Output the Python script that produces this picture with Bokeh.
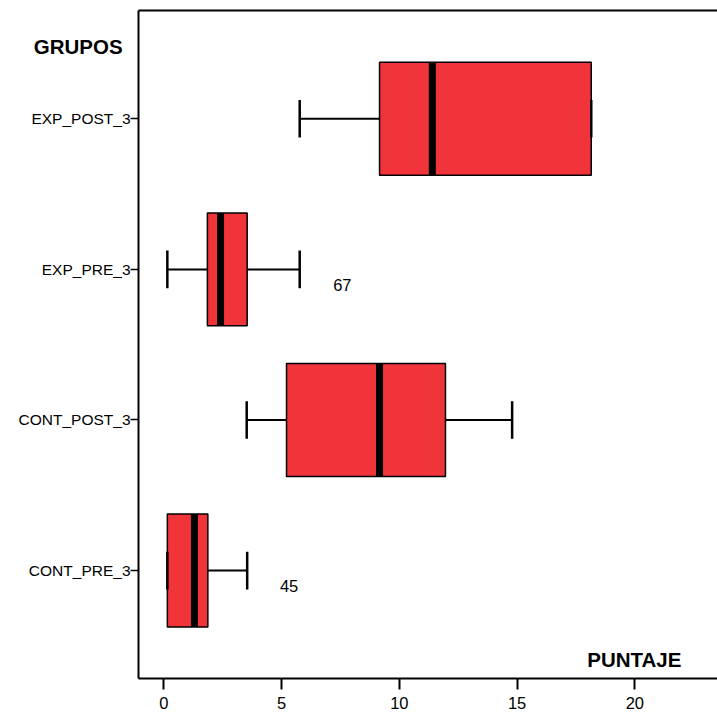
from bokeh.plotting import figure
from bokeh.models import Range1d, Label, FixedTicker, ColumnDataSource, LinearAxis
from bokeh.core.properties import value
from bokeh.embed import file_html
from bokeh.resources import INLINE

# Data (read in the axis scale of the picture)
groups = ["CONT_PRE_3", "CONT_POST_3", "EXP_PRE_3", "EXP_POST_3"]
positions = [1, 2, 3, 4]
whisker_low = [0.15, 3.52, 0.15, 5.77]
q1 = [0.15, 5.21, 1.85, 9.16]
median = [1.30, 9.16, 2.41, 11.40]
q3 = [1.87, 11.96, 3.54, 18.15]
whisker_high = [3.54, 14.79, 5.77, 18.15]

outlier_labels = ["45", "67"]
outlier_x = [5.32, 7.58]
outlier_y = [0.897, 2.896]

x_ticks = [0, 5, 10, 15, 20]

FONT = "Liberation Sans"
RED = "#F0343A"
BOX_H = 0.75
CAP_H = 0.25

# plotting box (frame lines) in data coordinates
X_LEFT, X_RIGHT = -1.074, 23.51
Y_BOTTOM, Y_TOP = 0.283, 4.719

p = figure(width=717, height=713, output_backend="svg", toolbar_location=None,
           x_range=Range1d(-6.934, 23.51), y_range=Range1d(0.0511, 4.7855),
           min_border_left=0, min_border_right=0, min_border_top=0,
           min_border_bottom=0)
p.xgrid.visible = False
p.ygrid.visible = False
p.outline_line_color = None
p.background_fill_color = "white"
p.border_fill_color = "white"

src = ColumnDataSource(dict(
    y=positions, lo=whisker_low, q1=q1, med=median, q3=q3, hi=whisker_high,
    ylo=[v - BOX_H / 2 for v in positions], yhi=[v + BOX_H / 2 for v in positions],
    clo=[v - CAP_H / 2 for v in positions], chi=[v + CAP_H / 2 for v in positions],
))

# whiskers
p.segment(x0="lo", y0="y", x1="q1", y1="y", source=src, line_color="black", line_width=2)
p.segment(x0="q3", y0="y", x1="hi", y1="y", source=src, line_color="black", line_width=2)
# boxes
p.hbar(y="y", left="q1", right="q3", height=BOX_H, source=src,
       fill_color=RED, line_color="black", line_width=1.5)
# medians
p.segment(x0="med", y0="ylo", x1="med", y1="yhi", source=src, line_color="black", line_width=7)
# caps
p.segment(x0="lo", y0="clo", x1="lo", y1="chi", source=src, line_color="black", line_width=2.5)
p.segment(x0="hi", y0="clo", x1="hi", y1="chi", source=src, line_color="black", line_width=2.5)

# outlier labels
osrc = ColumnDataSource(dict(x=outlier_x, y=outlier_y, t=outlier_labels))
p.text(x="x", y="y", text="t", source=osrc, text_font=value(FONT), text_font_size="16.5px",
       text_align="center", text_baseline="middle", text_color="black")

# x axis (bottom frame line)
p.xaxis.fixed_location = Y_BOTTOM
p.xaxis.bounds = (X_LEFT, X_RIGHT)
p.xaxis.ticker = FixedTicker(ticks=x_ticks)
p.xaxis.minor_tick_line_color = None
p.xaxis.major_tick_out = 11
p.xaxis.major_tick_in = 0
p.xaxis.major_tick_line_width = 2
p.xaxis.axis_line_width = 2
p.xaxis.major_label_standoff = 7
p.xaxis.major_label_text_font = FONT
p.xaxis.major_label_text_font_size = "16.5px"
p.xaxis.major_label_text_color = "black"

# y axis (left frame line)
p.yaxis.fixed_location = X_LEFT
p.yaxis.bounds = (Y_BOTTOM, Y_TOP)
p.yaxis.ticker = FixedTicker(ticks=positions)
p.yaxis.major_label_overrides = {pos: g for pos, g in zip(positions, groups)}
p.yaxis.minor_tick_line_color = None
p.yaxis.major_tick_out = 8
p.yaxis.major_tick_in = 0
p.yaxis.major_tick_line_width = 1.5
p.yaxis.axis_line_width = 2
p.yaxis.major_label_standoff = 0
p.yaxis.major_label_text_font = FONT
p.yaxis.major_label_text_font_size = "15.5px"
p.yaxis.major_label_text_color = "black"

# top frame line
top_axis = LinearAxis(fixed_location=Y_TOP, bounds=(X_LEFT, X_RIGHT),
                      ticker=FixedTicker(ticks=[]), axis_line_width=2,
                      major_tick_line_color=None, minor_tick_line_color=None,
                      major_label_text_font_size="0px")
p.add_layout(top_axis, "above")

# titles
p.add_layout(Label(x=-5.52, y=4.48, text="GRUPOS", text_font=FONT, text_font_size="20.5px",
                   text_font_style="bold", text_align="left", text_baseline="middle",
                   text_color="black"))
p.add_layout(Label(x=17.98, y=0.408, text="PUNTAJE", text_font=FONT, text_font_size="20.5px",
                   text_font_style="bold", text_align="left", text_baseline="middle",
                   text_color="black"))

open("out.html", "w").write(file_html(p, INLINE))
